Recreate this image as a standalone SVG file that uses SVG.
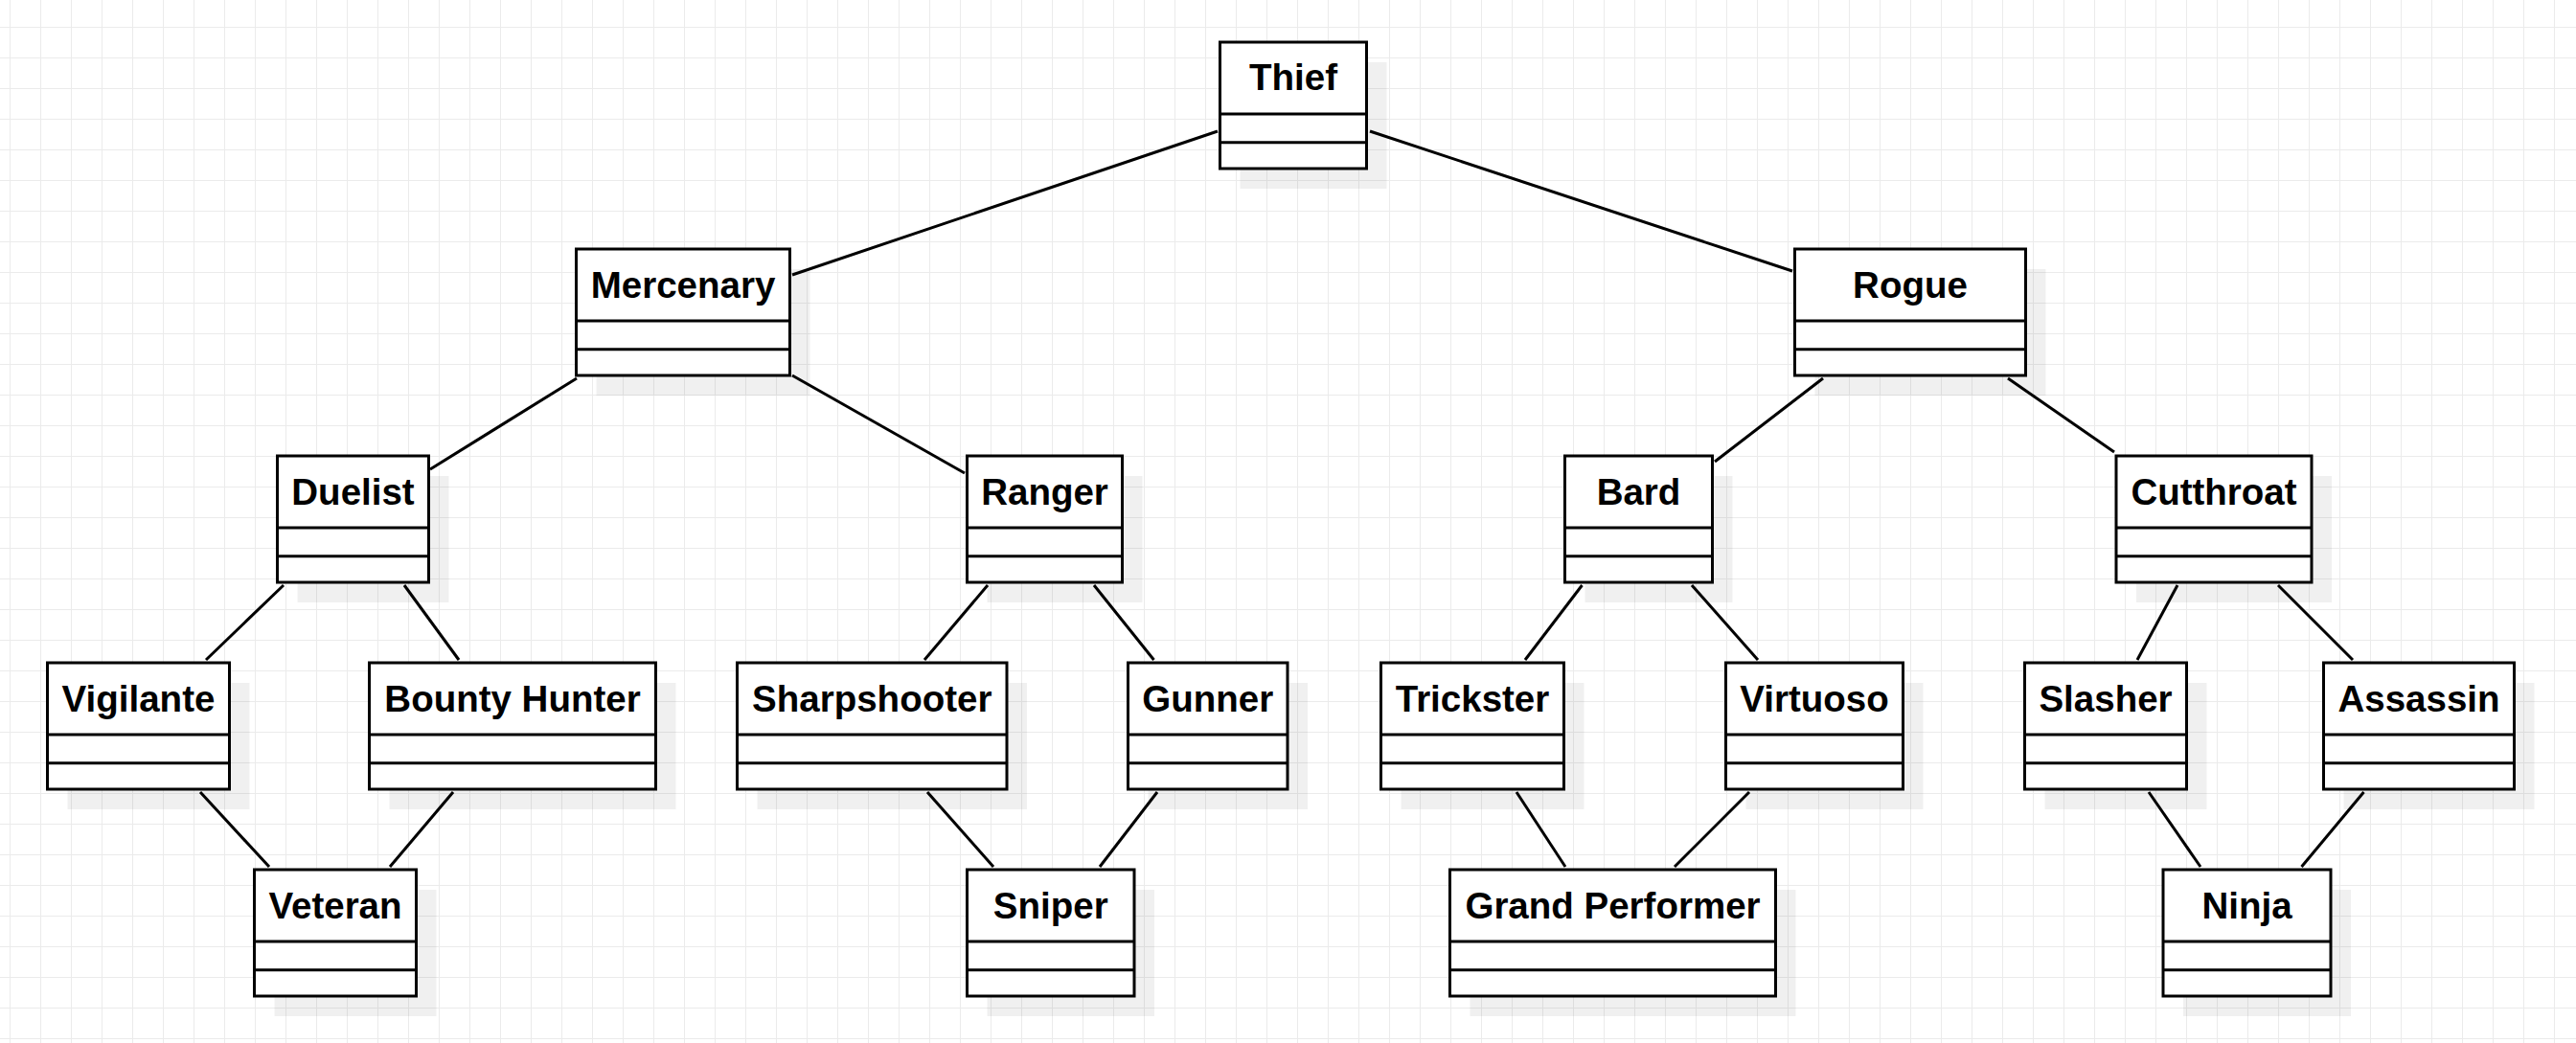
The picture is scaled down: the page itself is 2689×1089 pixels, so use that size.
<svg xmlns="http://www.w3.org/2000/svg" width="2689" height="1089" viewBox="0 0 2689 1089">
<style>
.shadow{fill:#000;fill-opacity:0.06;stroke:none}
.box{fill:#fff;stroke:#000;stroke-width:3}
.div{stroke:#000;stroke-width:3}
.label{font-family:"Liberation Sans",Arial,sans-serif;font-weight:bold;font-size:38.5px;fill:#000;text-anchor:middle}
.edge{stroke:#000;stroke-width:3;fill:none}
</style>
<defs>
<pattern id="grid" width="32" height="32" patternUnits="userSpaceOnUse" x="10" y="28">
<path d="M0.5 0V32M0 0.5H32" stroke="#ebebeb" stroke-width="1" fill="none"/>
</pattern>
</defs>
<rect width="2689" height="1089" fill="#fff"/>
<rect width="2689" height="1089" fill="url(#grid)"/>

<g id="thief"><rect class="shadow" x="1294.5" y="65" width="153" height="132"/><rect class="box" x="1273.5" y="44" width="153" height="132"/><line class="div" x1="1273.5" y1="119" x2="1426.5" y2="119"/><line class="div" x1="1273.5" y1="148.7" x2="1426.5" y2="148.7"/><text class="label" x="1350" y="94">Thief</text></g>

<g id="mercenary"><rect class="shadow" x="622.5" y="281" width="223" height="132"/><rect class="box" x="601.5" y="260" width="223" height="132"/><line class="div" x1="601.5" y1="335" x2="824.5" y2="335"/><line class="div" x1="601.5" y1="364.7" x2="824.5" y2="364.7"/><text class="label" x="713" y="310.5">Mercenary</text></g>

<g id="rogue"><rect class="shadow" x="1894.5" y="281" width="241" height="132"/><rect class="box" x="1873.5" y="260" width="241" height="132"/><line class="div" x1="1873.5" y1="335" x2="2114.5" y2="335"/><line class="div" x1="1873.5" y1="364.7" x2="2114.5" y2="364.7"/><text class="label" x="1994" y="310.5">Rogue</text></g>

<g id="duelist"><rect class="shadow" x="310.5" y="497" width="158" height="132"/><rect class="box" x="289.5" y="476" width="158" height="132"/><line class="div" x1="289.5" y1="551" x2="447.5" y2="551"/><line class="div" x1="289.5" y1="580.7" x2="447.5" y2="580.7"/><text class="label" x="368.5" y="526.5">Duelist</text></g>

<g id="ranger"><rect class="shadow" x="1030.5" y="497" width="162" height="132"/><rect class="box" x="1009.5" y="476" width="162" height="132"/><line class="div" x1="1009.5" y1="551" x2="1171.5" y2="551"/><line class="div" x1="1009.5" y1="580.7" x2="1171.5" y2="580.7"/><text class="label" x="1090.5" y="526.5">Ranger</text></g>

<g id="bard"><rect class="shadow" x="1654.5" y="497" width="154" height="132"/><rect class="box" x="1633.5" y="476" width="154" height="132"/><line class="div" x1="1633.5" y1="551" x2="1787.5" y2="551"/><line class="div" x1="1633.5" y1="580.7" x2="1787.5" y2="580.7"/><text class="label" x="1710.5" y="526.5">Bard</text></g>

<g id="cutthroat"><rect class="shadow" x="2230" y="497" width="204" height="132"/><rect class="box" x="2209" y="476" width="204" height="132"/><line class="div" x1="2209" y1="551" x2="2413" y2="551"/><line class="div" x1="2209" y1="580.7" x2="2413" y2="580.7"/><text class="label" x="2311" y="526.5">Cutthroat</text></g>

<g id="vigilante"><rect class="shadow" x="70.5" y="713" width="190" height="132"/><rect class="box" x="49.5" y="692" width="190" height="132"/><line class="div" x1="49.5" y1="767" x2="239.5" y2="767"/><line class="div" x1="49.5" y1="796.7" x2="239.5" y2="796.7"/><text class="label" x="144.5" y="742.5">Vigilante</text></g>

<g id="bounty-hunter"><rect class="shadow" x="406.5" y="713" width="299" height="132"/><rect class="box" x="385.5" y="692" width="299" height="132"/><line class="div" x1="385.5" y1="767" x2="684.5" y2="767"/><line class="div" x1="385.5" y1="796.7" x2="684.5" y2="796.7"/><text class="label" x="535" y="742.5">Bounty Hunter</text></g>

<g id="sharpshooter"><rect class="shadow" x="790.5" y="713" width="281.5" height="132"/><rect class="box" x="769.5" y="692" width="281.5" height="132"/><line class="div" x1="769.5" y1="767" x2="1051" y2="767"/><line class="div" x1="769.5" y1="796.7" x2="1051" y2="796.7"/><text class="label" x="910.25" y="742.5">Sharpshooter</text></g>

<g id="gunner"><rect class="shadow" x="1198.5" y="713" width="166.5" height="132"/><rect class="box" x="1177.5" y="692" width="166.5" height="132"/><line class="div" x1="1177.5" y1="767" x2="1344" y2="767"/><line class="div" x1="1177.5" y1="796.7" x2="1344" y2="796.7"/><text class="label" x="1260.75" y="742.5">Gunner</text></g>

<g id="trickster"><rect class="shadow" x="1462.5" y="713" width="191" height="132"/><rect class="box" x="1441.5" y="692" width="191" height="132"/><line class="div" x1="1441.5" y1="767" x2="1632.5" y2="767"/><line class="div" x1="1441.5" y1="796.7" x2="1632.5" y2="796.7"/><text class="label" x="1537" y="742.5">Trickster</text></g>

<g id="virtuoso"><rect class="shadow" x="1822.5" y="713" width="185" height="132"/><rect class="box" x="1801.5" y="692" width="185" height="132"/><line class="div" x1="1801.5" y1="767" x2="1986.5" y2="767"/><line class="div" x1="1801.5" y1="796.7" x2="1986.5" y2="796.7"/><text class="label" x="1894" y="742.5">Virtuoso</text></g>

<g id="slasher"><rect class="shadow" x="2134.5" y="713" width="169" height="132"/><rect class="box" x="2113.5" y="692" width="169" height="132"/><line class="div" x1="2113.5" y1="767" x2="2282.5" y2="767"/><line class="div" x1="2113.5" y1="796.7" x2="2282.5" y2="796.7"/><text class="label" x="2198" y="742.5">Slasher</text></g>

<g id="assassin"><rect class="shadow" x="2446.5" y="713" width="199" height="132"/><rect class="box" x="2425.5" y="692" width="199" height="132"/><line class="div" x1="2425.5" y1="767" x2="2624.5" y2="767"/><line class="div" x1="2425.5" y1="796.7" x2="2624.5" y2="796.7"/><text class="label" x="2525" y="742.5">Assassin</text></g>

<g id="veteran"><rect class="shadow" x="286.5" y="929" width="169" height="132"/><rect class="box" x="265.5" y="908" width="169" height="132"/><line class="div" x1="265.5" y1="983" x2="434.5" y2="983"/><line class="div" x1="265.5" y1="1012.7" x2="434.5" y2="1012.7"/><text class="label" x="350" y="958.5">Veteran</text></g>

<g id="sniper"><rect class="shadow" x="1030.5" y="929" width="174.5" height="132"/><rect class="box" x="1009.5" y="908" width="174.5" height="132"/><line class="div" x1="1009.5" y1="983" x2="1184" y2="983"/><line class="div" x1="1009.5" y1="1012.7" x2="1184" y2="1012.7"/><text class="label" x="1096.75" y="958.5">Sniper</text></g>

<g id="grand-performer"><rect class="shadow" x="1534.5" y="929" width="340" height="132"/><rect class="box" x="1513.5" y="908" width="340" height="132"/><line class="div" x1="1513.5" y1="983" x2="1853.5" y2="983"/><line class="div" x1="1513.5" y1="1012.7" x2="1853.5" y2="1012.7"/><text class="label" x="1683.5" y="958.5">Grand Performer</text></g>

<g id="ninja"><rect class="shadow" x="2279" y="929" width="175" height="132"/><rect class="box" x="2258" y="908" width="175" height="132"/><line class="div" x1="2258" y1="983" x2="2433" y2="983"/><line class="div" x1="2258" y1="1012.7" x2="2433" y2="1012.7"/><text class="label" x="2345.5" y="958.5">Ninja</text></g>

<g id="connectors">
<line class="edge" x1="1271" y1="137" x2="827" y2="287"/>
<line class="edge" x1="1430" y1="137" x2="1871" y2="283"/>
<line class="edge" x1="602" y1="395" x2="449" y2="490"/>
<line class="edge" x1="827" y1="392" x2="1007" y2="494"/>
<line class="edge" x1="1903" y1="395" x2="1790" y2="482"/>
<line class="edge" x1="2096" y1="395" x2="2207" y2="472"/>
<line class="edge" x1="296" y1="611" x2="215" y2="689"/>
<line class="edge" x1="422" y1="611" x2="479" y2="689"/>
<line class="edge" x1="1031" y1="611" x2="965" y2="689"/>
<line class="edge" x1="1142" y1="611" x2="1204.5" y2="689"/>
<line class="edge" x1="1651.5" y1="611" x2="1592" y2="689"/>
<line class="edge" x1="1766" y1="611" x2="1835" y2="689"/>
<line class="edge" x1="2273" y1="611" x2="2231" y2="689"/>
<line class="edge" x1="2378" y1="611" x2="2456" y2="689"/>
<line class="edge" x1="209" y1="827" x2="281" y2="905"/>
<line class="edge" x1="473" y1="827" x2="407" y2="905"/>
<line class="edge" x1="968" y1="827" x2="1037" y2="905"/>
<line class="edge" x1="1208" y1="827" x2="1148" y2="905"/>
<line class="edge" x1="1583" y1="827" x2="1634" y2="905"/>
<line class="edge" x1="1826" y1="827" x2="1748" y2="905"/>
<line class="edge" x1="2243" y1="827" x2="2297" y2="905"/>
<line class="edge" x1="2467.5" y1="827" x2="2402.5" y2="905"/>
</g>
</svg>
